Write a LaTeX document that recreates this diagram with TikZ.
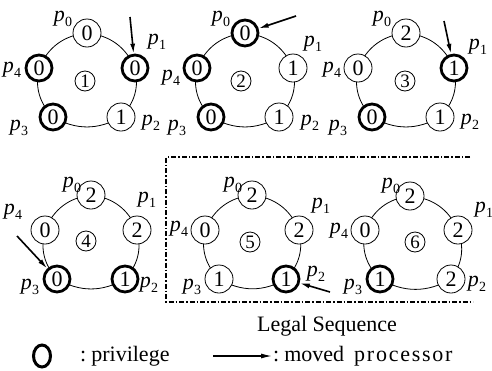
\documentclass[tikz,border=0pt]{standalone}
\usepackage{fontspec}
\setmainfont{Liberation Serif}
\usetikzlibrary{arrows.meta,calc,shapes.geometric,backgrounds}
\newcommand\pp[1]{\textit{p}\kern0.3pt\raisebox{-5pt}{\fontsize{14}{14}\selectfont #1}}
\begin{document}
\begin{tikzpicture}[x=1pt,y=-1pt,
  proc/.style={circle,draw,line width=0.8pt,minimum size=28pt,inner sep=0pt,fill=white,font=\fontsize{22}{22}\selectfont},
  priv/.style={proc,line width=2.8pt,minimum size=26pt},
  ctr/.style={circle,draw,line width=0.8pt,minimum size=20pt,inner sep=0pt,font=\fontsize{19}{19}\selectfont},
  lab/.style={font=\fontsize{22}{22}\selectfont,inner sep=0pt},
  ring/.style={line width=0.8pt},
  mover/.style={line width=1.6pt,-{Latex[length=10pt,width=5pt]}},
  legal/.style={line width=1.2pt,dash pattern=on 5pt off 2pt on 1.5pt off 2pt},
]
\useasboundingbox (0,0) rectangle (492,370);

% ---------- diagram 1
\begin{scope}[shift={(87,80)}]
\node[proc] (a0) at (0,-47) {0};
\node[priv] (a1) at (48,-12) {0};
\node[proc] (a2) at (34,37) {1};
\node[priv] (a3) at (-34,37) {0};
\node[priv] (a4) at (-48,-12) {0};
\node[ctr] (ac) at (-2,1) {1};
\end{scope}
% ---------- diagram 2
\begin{scope}[shift={(245,80)}]
\node[priv] (b0) at (0,-47) {0};
\node[proc] (b1) at (48,-12) {1};
\node[proc] (b2) at (34,37) {1};
\node[priv] (b3) at (-34,37) {0};
\node[priv] (b4) at (-48,-12) {0};
\node[ctr] (bc) at (-4,1) {2};
\end{scope}
% ---------- diagram 3
\begin{scope}[shift={(406,80)}]
\node[proc] (c0) at (0,-47) {2};
\node[priv] (c1) at (48,-12) {1};
\node[proc] (c2) at (34,37) {1};
\node[priv] (c3) at (-34,37) {0};
\node[proc] (c4) at (-48,-12) {0};
\node[ctr] (cc) at (-1,1) {3};
\end{scope}
% ---------- diagram 4
\begin{scope}[shift={(91,242)}]
\node[proc] (d0) at (0,-47) {2};
\node[proc] (d1) at (46,-12) {2};
\node[priv] (d2) at (34,37) {1};
\node[priv] (d3) at (-34,37) {0};
\node[proc] (d4) at (-46,-12) {0};
\node[ctr] (dc) at (-5,-1) {4};
\end{scope}
% ---------- diagram 5
\begin{scope}[shift={(252,242)}]
\node[proc] (e0) at (0,-47) {2};
\node[proc] (e1) at (47,-12) {2};
\node[priv] (e2) at (34,37) {1};
\node[proc] (e3) at (-33,37) {1};
\node[proc] (e4) at (-47,-12) {0};
\node[ctr] (ec) at (-2,0) {5};
\end{scope}
% ---------- diagram 6
\begin{scope}[shift={(413,242)}]
\node[proc] (f0) at (-3,-46) {2};
\node[proc] (f1) at (45,-12) {2};
\node[proc] (f2) at (38,37) {2};
\node[priv] (f3) at (-33,37) {1};
\node[proc] (f4) at (-48,-12) {0};
\node[ctr] (fc) at (2,0) {6};
\end{scope}

% rings (behind the processor circles)
\begin{pgfonlayer}{background}
\foreach \r in {a,b,c,d,e,f}{
  \draw[ring] (\r0.center) to[bend left=30] (\r1.center) to[bend left=28] (\r2.center)
     to[bend left=30] (\r3.center) to[bend left=28] (\r4.center) to[bend left=30] (\r0.center);
}
\end{pgfonlayer}

% labels
\foreach \r in {a,b,c}{
  \node[lab] at ($(\r0)+(-24,-14)$) {\pp{0}};
  \node[lab] at ($(\r3)+(-34,11)$) {\pp{3}};
}
\node[lab] at ($(a1)+(22,-26)$) {\pp{1}};
\node[lab] at ($(b1)+(20,-24)$) {\pp{1}};
\node[lab] at ($(c1)+(24,-21)$) {\pp{1}};
\node[lab] at ($(a2)+(30,6)$) {\pp{2}};
\node[lab] at ($(b2)+(31,6)$) {\pp{2}};
\node[lab] at ($(c2)+(30,5)$) {\pp{2}};
\node[lab] at ($(a4)+(-27,2)$) {\pp{4}};
\node[lab] at ($(b4)+(-26,10)$) {\pp{4}};
\node[lab] at ($(c4)+(-26,2)$) {\pp{4}};

\foreach \r in {d,e,f}{
  \node[lab] at ($(\r0)+(-19,-10)$) {\pp{0}};
  \node[lab] at ($(\r3)+(-27,8)$) {\pp{3}};
}
\node[lab] at ($(d1)+(10,-30)$) {\pp{1}};
\node[lab] at ($(e1)+(22,-24)$) {\pp{1}};
\node[lab] at ($(f1)+(26,-20)$) {\pp{1}};
\node[lab] at ($(d2)+(24,6)$) {\pp{2}};
\node[lab] at ($(e2)+(30,-5)$) {\pp{2}};
\node[lab] at ($(f2)+(26,5)$) {\pp{2}};
\node[lab] at ($(d4)+(-32,-18)$) {\pp{4}};
\node[lab] at ($(e4)+(-26,-1)$) {\pp{4}};
\node[lab] at ($(f4)+(-26,1)$) {\pp{4}};

% moved-processor arrows
\coordinate (ta) at (130,17);
\coordinate (tb) at (296,16);
\coordinate (tc) at (444,21);
\coordinate (td) at (17,236);
\coordinate (te) at (330,292);
\draw[mover] (ta) -- (a1);
\draw[mover] (tb) -- (b0);
\draw[mover] (tc) -- (c1);
\draw[mover] (td) -- (d3);
\draw[mover] (te) -- (e2);

% legal sequence frame
\draw[legal] (470,157) -- (166,157) -- (166,302) -- (473,302);
\node[lab] (legal) at (327,326) {Legal Sequence};

% legend
\node[draw,ellipse,line width=3pt,minimum width=17pt,minimum height=22pt,inner sep=0pt] (lgc) at (42,356) {};
\node[lab,anchor=west] (lgt) at (80,356) {:\hspace{5pt}privilege};
\coordinate (la) at (213,356);
\coordinate (lb) at (272,356);
\draw[line width=1.2pt,-{Latex[length=11pt,width=5pt]}] (la) -- (lb);
\node[lab,anchor=west] (lmt) at (273,356) {:\hspace{5pt}moved\hspace{10pt}{\addfontfeature{LetterSpace=8}processor}};
\end{tikzpicture}
\end{document}
